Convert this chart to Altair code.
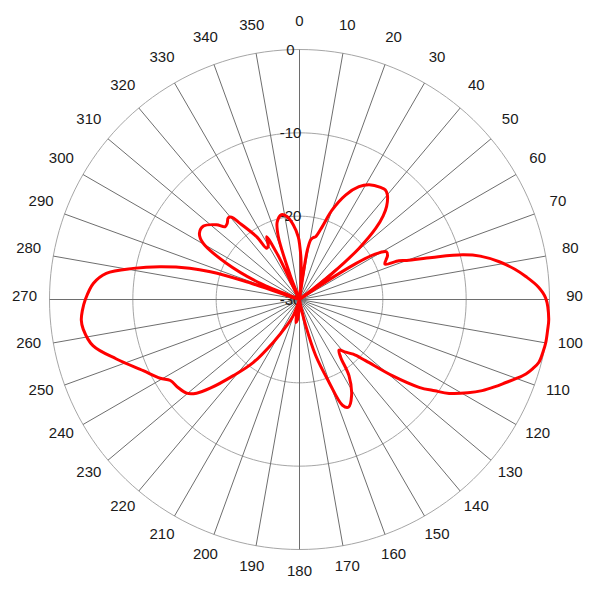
import altair as alt
import pandas as pd

# Radiation pattern (azimuth in degrees, gain in dB)
angles = [0, 2, 3.5, 5.5, 7, 8.3, 9, 10.7, 12.5, 14.5, 17.4, 20, 23.8, 27.8, 31.3, 35.9, 38, 40,
          43.1, 45, 47, 49.3, 51.4, 53, 54, 56, 57.5, 59, 61.2, 63.5, 65.5, 67.5, 68.7, 70, 72.4,
          74.7, 76.5, 79.3, 82, 84.2, 87, 89.7, 94.5, 97, 99.9, 102, 104.7, 106.5, 108.2, 110,
          111.9, 114, 116.5, 119, 122.1, 124, 126.3, 129.4, 132.8, 135.5, 138.8, 142, 144.5, 147,
          151.5, 155.6, 157.9, 160.4, 163.9, 166.7, 169, 171, 175, 180, 183, 186, 189, 191, 194,
          197, 201, 206, 211.5, 216.3, 221, 225.2, 227.7, 230.3, 234.1, 237.9, 240.5, 245.5, 252,
          257.4, 262.2, 264.6, 267, 270, 274.5, 277.7, 280.6, 283.2, 285.9, 287.3, 288.5, 290,
          292.3, 296.4, 300.3, 303.5, 307.4, 312, 314.3, 316.5, 318.8, 320.5, 322, 325.7, 327.4,
          330, 332.4, 334, 336, 339, 341.4, 344, 348, 351.2, 355.2, 358.9]
gain_db = [-23.3, -25.0, -26.8, -28.6, -30, -27, -24, -22.7, -22.4, -22.2, -20.8, -18.6, -16.3,
           -14.7, -13.9, -13.4, -13.3, -13.6, -14.7, -15.8, -17.5, -20.6, -25, -30, -30, -27, -22,
           -19.5, -18.1, -18.2, -18.6, -18.9, -17.2, -16.3, -13.3, -9.7, -7.7, -5.6, -3.9, -2.7,
           -1.3, -0.45, 0, 0, 0, -0.1, -0.3, -0.8, -1.4, -2.3, -3.3, -4.3, -5.5, -6.9, -8.8,
           -10.4, -12.2, -15.6, -19.2, -20.8, -21.6, -22.3, -21.5, -19.1, -16.9, -15.8, -16.3,
           -19.5, -23, -26.8, -29, -30, -30, -30, -28.5, -27.5, -27.2, -28.5, -30, -30, -28,
           -26.5, -24, -20.6, -17.9, -14.9, -13.3, -12.4, -12.0, -11.7, -10.8, -9.4, -6.9, -4.6,
           -3.8, -3.7, -3.9, -4.3, -5.2, -6.6, -9.7, -12.8, -16.3, -18.8, -23, -30, -25, -20.2,
           -16.6, -15.6, -15.5, -16.6, -17.5, -17.4, -17.0, -17.2, -18.4, -20.9, -22.7, -22.5,
           -21.5, -24, -30, -27, -22, -20.3, -19.6, -19.9, -21.0, -22.5]

tick_angles = list(range(0, 360, 10))
tick_labels = [str(a) for a in tick_angles]
ring_db = [0, -10, -20]
radial_label_db = [0, -10, -20, -30]
radial_labels = ["0", "-10", "-20", "-30"]

DB_MIN = -30
SPAN = 30.0
PX_PER_UNIT = 250 / SPAN
HALF = 291.5 / PX_PER_UNIT
SIZE = 583
FONT = "Liberation Sans"

pattern = pd.DataFrame({"angle": angles, "db": gain_db})
pattern = pd.concat([pattern, pattern.iloc[[0]]], ignore_index=True)
pattern["idx"] = range(len(pattern))

ring_rows = []
for d in ring_db:
    for a in range(0, 362, 2):
        ring_rows.append({"ring": d, "angle": a, "db": d})
rings = pd.DataFrame(ring_rows)

spokes = pd.DataFrame({"angle": tick_angles})
tick_df = pd.DataFrame({"angle": tick_angles, "label": tick_labels})
radial_df = pd.DataFrame({"db": radial_label_db, "label": radial_labels})

xs = alt.Scale(domain=[-HALF, HALF], nice=False, zero=False)
ys = alt.Scale(domain=[-HALF, HALF], nice=False, zero=False)

def polar(chart, rho_expr):
    return chart.transform_calculate(
        rho=rho_expr
    ).transform_calculate(
        px="datum.rho * sin(datum.angle * PI / 180)",
        py="datum.rho * cos(datum.angle * PI / 180)",
    )

ring_layer = polar(alt.Chart(rings), f"datum.db - ({DB_MIN})").mark_line(
    color="#a6a6a6", strokeWidth=1
).encode(
    x=alt.X("px:Q", scale=xs, axis=None),
    y=alt.Y("py:Q", scale=ys, axis=None),
    detail="ring:N",
    order="angle:Q",
)

spoke_layer = alt.Chart(spokes).transform_calculate(
    x0="0", y0="0",
    x1=f"{SPAN} * sin(datum.angle * PI / 180)",
    y1=f"{SPAN} * cos(datum.angle * PI / 180)",
).mark_rule(color="#6e6e6e", strokeWidth=1).encode(
    x=alt.X("x0:Q", scale=xs, axis=None),
    y=alt.Y("y0:Q", scale=ys, axis=None),
    x2="x1:Q",
    y2="y1:Q",
)

tick_layer = polar(alt.Chart(tick_df), f"{33.0}").mark_text(
    font=FONT, fontSize=15, color="#1a1a1a", align="center", baseline="middle", dy=-4
).encode(
    x=alt.X("px:Q", scale=xs, axis=None),
    y=alt.Y("py:Q", scale=ys, axis=None),
    text="label:N",
)

radial_layer = alt.Chart(radial_df).transform_calculate(
    px="0", py=f"datum.db - ({DB_MIN})"
).mark_text(
    font=FONT, fontSize=15, color="#1a1a1a", align="center", baseline="middle", dx=-9
).encode(
    x=alt.X("px:Q", scale=xs, axis=None),
    y=alt.Y("py:Q", scale=ys, axis=None),
    text="label:N",
)

curve_layer = polar(alt.Chart(pattern), f"max(datum.db - ({DB_MIN}), 0)").mark_line(
    color="#ff0000", strokeWidth=3, interpolate="catmull-rom"
).encode(
    x=alt.X("px:Q", scale=xs, axis=None),
    y=alt.Y("py:Q", scale=ys, axis=None),
    order="idx:Q",
)

chart = alt.layer(ring_layer, spoke_layer, tick_layer, radial_layer, curve_layer).properties(
    width=SIZE, height=SIZE, autosize="none", padding=0, background="white"
).configure_view(stroke=None)

chart.save("out.html", embed_options={"renderer": "svg", "actions": False})
